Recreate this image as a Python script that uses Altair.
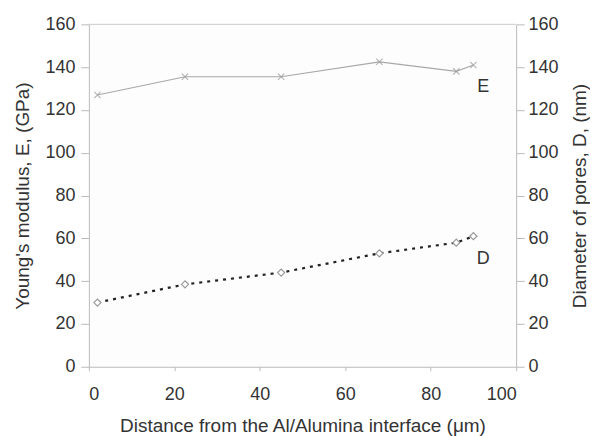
import altair as alt
import pandas as pd

distance = [2, 22.5, 45, 68, 86, 90]
modulus_E = [127, 135.5, 135.5, 142.5, 138, 141]
diameter_D = [30, 38.5, 44, 53, 58, 61]

label_text = ["E", "D"]
label_x = [92.3, 92.3]
label_y = [130.5, 50.5]

dfE = pd.DataFrame({"x": distance, "E": modulus_E})
dfD = pd.DataFrame({"x": distance, "D": diameter_D})
dfLab = pd.DataFrame({"x": label_x, "y": label_y, "t": label_text})

FONT = "Liberation Sans"
xscale = alt.Scale(domain=[0, 100], nice=False)
yscale = alt.Scale(domain=[0, 160], nice=False)

xaxis = alt.Axis(values=[0, 20, 40, 60, 80, 100], title="Distance from the Al/Alumina interface (μm)",
                 grid=False, tickSize=4, labelPadding=15, titlePadding=13,
                 domainColor="#bbbbbb", tickColor="#bbbbbb")

yl_axis = alt.Axis(values=list(range(0, 161, 20)), title="Young's modulus, E, (GPa)", orient="left",
                   grid=False, tickSize=8, labelPadding=6, titlePadding=12,
                   domainColor="#bbbbbb", tickColor="#bbbbbb")
yr_axis = alt.Axis(values=list(range(0, 161, 20)), title="Diameter of pores, D, (nm)", orient="right",
                   grid=False, tickSize=8, labelPadding=4, titlePadding=12, titleAngle=270,
                   titleBaseline="top",
                   domainColor="#bbbbbb", tickColor="#bbbbbb")

xpath = "M-1,-1L1,1M1,-1L-1,1"

lineE = alt.Chart(dfE).mark_line(color="#a8a8a8", strokeWidth=1.2).encode(
    x=alt.X("x:Q", scale=xscale, axis=xaxis),
    y=alt.Y("E:Q", scale=yscale, axis=yl_axis),
)
ptsE = alt.Chart(dfE).mark_point(shape=xpath, size=40, color="#999999", strokeWidth=1.2, filled=False).encode(
    x=alt.X("x:Q", scale=xscale),
    y=alt.Y("E:Q", scale=yscale),
)
lineD = alt.Chart(dfD).mark_line(color="#222222", strokeWidth=2.2, strokeDash=[3, 5]).encode(
    x=alt.X("x:Q", scale=xscale),
    y=alt.Y("D:Q", scale=yscale, axis=yr_axis),
)
ptsD = alt.Chart(dfD).mark_point(shape="diamond", size=50, fill="white", filled=True,
                                 stroke="#999999", strokeWidth=1.2, opacity=1).encode(
    x=alt.X("x:Q", scale=xscale),
    y=alt.Y("D:Q", scale=yscale),
)
labels = alt.Chart(dfLab).mark_text(font=FONT, fontSize=18, color="#333333", align="center", baseline="middle").encode(
    x=alt.X("x:Q", scale=xscale),
    y=alt.Y("y:Q", scale=yscale),
    text="t:N",
)
topline = alt.Chart(pd.DataFrame({"y": [160]})).mark_rule(color="#cccccc").encode(
    y=alt.Y("y:Q", scale=yscale),
)

left = alt.layer(topline, lineE, ptsE, labels)
right = alt.layer(lineD, ptsD)

chart = alt.layer(left, right).resolve_scale(y="independent").properties(
    width=428, height=343
).configure(
    background="white", padding={"left": 5, "top": 7, "right": 0, "bottom": 0}
).configure_view(stroke=None, fill="#fdfdfd").configure_axis(
    labelFont=FONT, titleFont=FONT, labelFontSize=18, titleFontSize=19,
    labelColor="#333333", titleColor="#333333", titleFontWeight="normal"
)

chart.save("out.html", embed_options={"renderer": "svg", "actions": False})
